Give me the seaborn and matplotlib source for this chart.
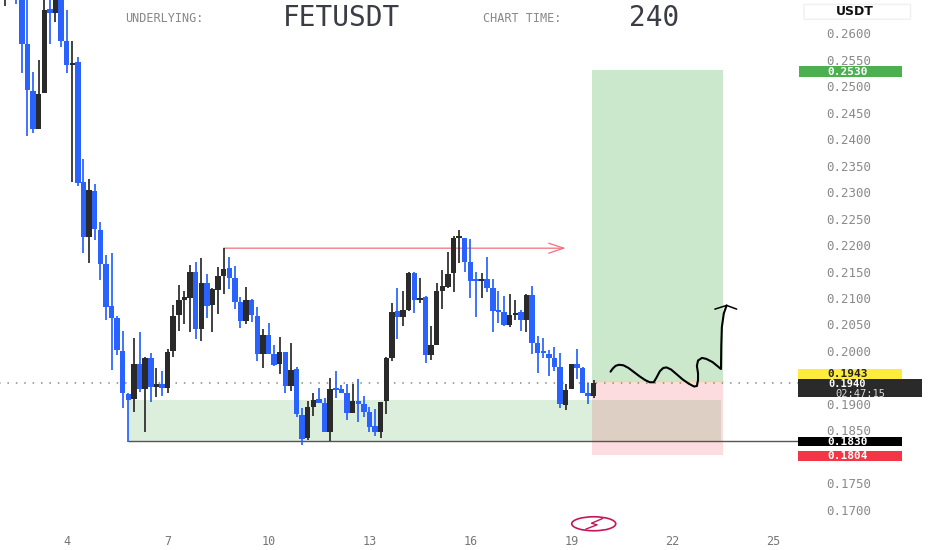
import numpy as np
import pandas as pd
import matplotlib
matplotlib.use("Agg")
import matplotlib.pyplot as plt
from matplotlib.patches import Rectangle, Ellipse, FancyBboxPatch
import seaborn as sns

# candle values (close above open = black, below = blue)
opens  = [.2680,.2750,.2720,.2690,.2579,.2490,.2419,.2487,.2645,.2638,.2690,.2585,.2540,.2545,.2319,.2215,.2302,.2228,
          .2164,.2085,.2063,.2000,.1919,.1910,.1976,.1929,.1987,.1933,.1938,.1930,.2000,.2068,.2097,.2100,.2149,.2042,
          .2128,.2087,.2115,.2142,.2157,.2138,.2093,.2057,.2097,.2066,.1995,.2030,.1995,.1976,.1998,.1934,.1966,.1879,
          .1836,.1895,.1910,.1902,.1847,.1930,.1928,.1921,.1883,.1906,.1900,.1885,.1859,.1847,.1906,.1987,.2076,.2064,
          .2078,.2147,.2096,.2102,.1993,.2011,.2113,.2121,.2147,.2213,.2213,.2168,.2134,.2132,.2136,.2119,.2076,.2074,
          .2049,.2068,.2074,.2059,.2106,.2015,.1998,.1995,.1987,.1970,.1898,.1928,.1976,.1968,.1921,.1915]
closes = [.2700,.2700,.2690,.2579,.2492,.2419,.2485,.2643,.2638,.2690,.2585,.2540,.2544,.2317,.2215,.2304,.2230,.2164,
          .2083,.2063,.2002,.1921,.1908,.1976,.1929,.1987,.1933,.1938,.1930,.1998,.2066,.2097,.2100,.2149,.2042,.2128,
          .2085,.2117,.2142,.2155,.2138,.2093,.2057,.2097,.2068,.1995,.2030,.1995,.1974,.1998,.1934,.1964,.1881,.1834,
          .1895,.1908,.1902,.1847,.1928,.1926,.1921,.1883,.1906,.1900,.1885,.1857,.1847,.1904,.1987,.2074,.2064,.2078,
          .2147,.2096,.2100,.1993,.2011,.2113,.2123,.2145,.2213,.2215,.2168,.2132,.2132,.2136,.2119,.2076,.2074,.2049,
          .2068,.2072,.2059,.2106,.2015,.1996,.1996,.1987,.1970,.1900,.1926,.1976,.1968,.1921,.1915,.1940]
highs  = [.2720,.2760,.2740,.2730,.2700,.2527,.2549,.2680,.2690,.2710,.2720,.2643,.2585,.2555,.2362,.2325,.2315,.2244,
          .2181,.2185,.2066,.2038,.1921,.2025,.2036,.1989,.1996,.1968,.1962,.2004,.2087,.2125,.2113,.2162,.2168,.2176,
          .2145,.2119,.2159,.2194,.2177,.2160,.2102,.2121,.2098,.2083,.2042,.2053,.2011,.2027,.1998,.2015,.1970,.1893,
          .1906,.1921,.1930,.1912,.1949,.1962,.1936,.1938,.1938,.1947,.1915,.1895,.1891,.1904,.1989,.2091,.2119,.2113,
          .2149,.2149,.2138,.2104,.2047,.2128,.2153,.2187,.2217,.2228,.2213,.2211,.2149,.2147,.2177,.2136,.2113,.2104,
          .2108,.2096,.2078,.2108,.2123,.2028,.2025,.2002,.2008,.1996,.1938,.1976,.2004,.1970,.1940,.1945]
lows   = [.2651,.2680,.2655,.2525,.2406,.2412,.2419,.2487,.2579,.2621,.2574,.2525,.2319,.2311,.2185,.2166,.2209,.2134,
          .2059,.1964,.1993,.1893,.1828,.1885,.1923,.1847,.1904,.1913,.1915,.1921,.1989,.2038,.2051,.2036,.2023,.2019,
          .2063,.2036,.2070,.2108,.2117,.2079,.2044,.2051,.2055,.1981,.1968,.1995,.1972,.1957,.1921,.1925,.1876,.1823,
          .1832,.1877,.1902,.1847,.1830,.1912,.1921,.1870,.1883,.1866,.1876,.1847,.1840,.1836,.1881,.1981,.2023,.2047,
          .2076,.2072,.2091,.1978,.1983,.2011,.2079,.2119,.2111,.2166,.2149,.2100,.2064,.2100,.2111,.2036,.2053,.2047,
          .2045,.2059,.2038,.2036,.1995,.1959,.1987,.1953,.1962,.1893,.1889,.1928,.1947,.1921,.1900,.1912]

# price levels of the trade drawing
target_price, entry_price, stop_price = .2530, .1943, .1804
zone_top, zone_bottom, last_price = .1908, .1830, .1940
resistance_price = .2194
tick_prices = [.26,.255,.25,.245,.24,.235,.23,.225,.22,.215,.21,.205,.20,.19,.185,.175,.17]
day_positions = [11,29,47,65,83,101,119,137]
day_labels = ["4","7","10","13","16","19","22","25"]

# hand-drawn path: candle position / price
sketch_x = [108.0,108.4,108.9,109.5,110.3,111.2,112.2,113.2,114.2,115.0,115.7,116.2,116.8,117.4,118.0,118.8,119.8,120.9,
            122.0,122.9,123.4,123.6,123.6,123.4,123.6,124.3,125.1,126.2,127.7,127.75,127.85,128.2,128.7]
sketch_y = [.1961,.1967,.1972,.1974,.1973,.1968,.1960,.1952,.1945,.1941,.1941,.1950,.1962,.1968,.1969,.1965,.1956,.1946,
            .1938,.1933,.1934,.1945,.1958,.1972,.1982,.1987,.1985,.1979,.1966,.2010,.2045,.2071,.2086]
head_x = [126.6,128.7,130.5]
head_y = [.2079,.2086,.2079]
bolt_x = [106.6,104.6,105.6,103.6]
bolt_y = [.1684,.1675,.1672,.1664]

BLUE, BLACK = "#2962ff", "#2a2a2a"
MONO = "DejaVu Sans Mono"

sns.set_theme(style="white")
df = pd.DataFrame({"i": np.arange(len(opens)), "o": opens, "c": closes, "h": highs, "l": lows})
df["k"] = np.where(df.c >= df.o, "k", "b")
df["lo"] = df[["o", "c"]].min(axis=1)
df["body"] = (df.c - df.o).abs().clip(lower=.0004)

fig = plt.figure(figsize=(9.32, 5.5), dpi=100, facecolor="white")
ax = fig.add_axes([0, 0, 1, 1])

# shaded zones
ax.add_patch(Rectangle((104.7, entry_price), 23.35, target_price-entry_price, fc="#cbe8cd", ec="none", zorder=0))
ax.add_patch(Rectangle((104.7, stop_price), 23.35, entry_price-stop_price, fc="#fddcdf", ec="none", zorder=0))
ax.add_patch(Rectangle((22, zone_bottom), 82.7, zone_top-zone_bottom, fc="#dcefdd", ec="none", zorder=.5))
ax.add_patch(Rectangle((104.7, zone_bottom), 23, zone_top-zone_bottom, fc="#decfc4", ec="none", zorder=.5))
ax.plot([104.7,128.05],[entry_price,entry_price],color="#f7dc6f",lw=.9,zorder=1)

# reference lines
ax.plot([-1,141.4],[last_price,last_price],color="#888888",lw=1.1,ls=(0,(1,4.5)),zorder=1)
ax.plot([22,141.4],[zone_bottom,zone_bottom],color="#555555",lw=1,zorder=1)
ax.annotate("",xy=(100,resistance_price),xytext=(39,resistance_price),
            arrowprops=dict(arrowstyle="->,head_length=.9,head_width=.3",color="#f2707f",lw=.9,shrinkA=0,shrinkB=0),zorder=1)

# candles
c_wick = df.k.map({"k":BLACK,"b":BLUE})
ax.vlines(df.i, df.l, df.h, colors=c_wick, lw=1.25, zorder=2.9)
for k, col in (("b",BLUE),("k",BLACK)):
    sub = df[df.k==k]
    sns.barplot(data=sub, x="i", y="body", bottom=sub.lo.values, native_scale=True, color=col, saturation=1,
                width=.97, errorbar=None, linewidth=0, ax=ax, zorder=3)

# sketch
ax.plot(sketch_x, sketch_y, color="black", lw=1.5, zorder=4, solid_capstyle="round", solid_joinstyle="round")
ax.plot(head_x, head_y, color="black", lw=1.1, zorder=4)

# axes
ax.set_xlim(-0.892, 165.33)
ax.set_ylim(.16245, .26623)
for s in ax.spines.values():
    s.set_visible(False)
ax.grid(False)
ax.set_xlabel(""); ax.set_ylabel("")
ax.yaxis.tick_right()
ax.set_yticks(tick_prices, [f"{v:.4f}" for v in tick_prices])
ax.set_xticks(day_positions, day_labels)
ax.tick_params(axis="y", length=0, pad=-76, labelsize=9, labelcolor="#8a8a8a")
ax.tick_params(axis="x", length=0, pad=-10.5, labelsize=8.5, labelcolor="#777777")
for t in ax.get_yticklabels()+ax.get_xticklabels():
    t.set_fontfamily(MONO)

# price tags
def tag(x0, x1, y0, y1, col, tc, label=None):
    ax.add_patch(Rectangle((x0,y0),x1-x0,y1-y0,fc=col,ec="none",zorder=5))
    if label:
        ax.text(150.2,(y0+y1)/2,label,color=tc,ha="center",va="center",family=MONO,fontsize=8,fontweight="bold",zorder=6)
tag(141.6,160,.2517,.2537,"#4caf50","white","0.2530")
tag(141.4,160,.1948,.1966,"#ffeb3b","#222222","0.1943")
tag(141.4,163.5,.1913,.1948,"#2a2a2a","white")
ax.text(150.2,.19368,"0.1940",color="white",ha="center",va="center",family=MONO,fontsize=7.5,fontweight="bold",zorder=6)
ax.text(152.5,.19195,"02:47:15",color="#dddddd",ha="center",va="center",family=MONO,fontsize=7.5,zorder=6)
tag(141.4,160,.1820,.1837,"#000000","white","0.1830")
tag(141.4,160,.1793,.1811,"#f23645","white","0.1804")

# header
ax.text(28.5,.2628,"UNDERLYING:",color="#888888",family=MONO,fontsize=8.5,ha="center",va="center")
ax.text(60,.2628,"FETUSDT",color="#3a3d45",family=MONO,fontsize=20,ha="center",va="center")
ax.text(92.3,.2628,"CHART TIME:",color="#888888",family=MONO,fontsize=8.5,ha="center",va="center")
ax.text(115.7,.2628,"240",color="#3a3d45",family=MONO,fontsize=20,ha="center",va="center")
ax.add_patch(FancyBboxPatch((142.5,.2626),19,.0028,boxstyle="round,pad=0,rounding_size=.0008",
                            mutation_aspect=1,fc="white",ec="#f0f0f0",lw=1,zorder=5))
ax.text(151.5,.2641,"USDT",color="#111111",family="DejaVu Sans",fontsize=9,fontweight="bold",ha="center",va="center",zorder=6)

# logo
ax.add_patch(Ellipse((105,.1674),7.85,.00264,fc="white",ec="#c2185b",lw=1.2,zorder=5))
ax.plot(bolt_x,bolt_y,color="#c2185b",lw=1,zorder=6)

fig.savefig("out.png", dpi=100)
